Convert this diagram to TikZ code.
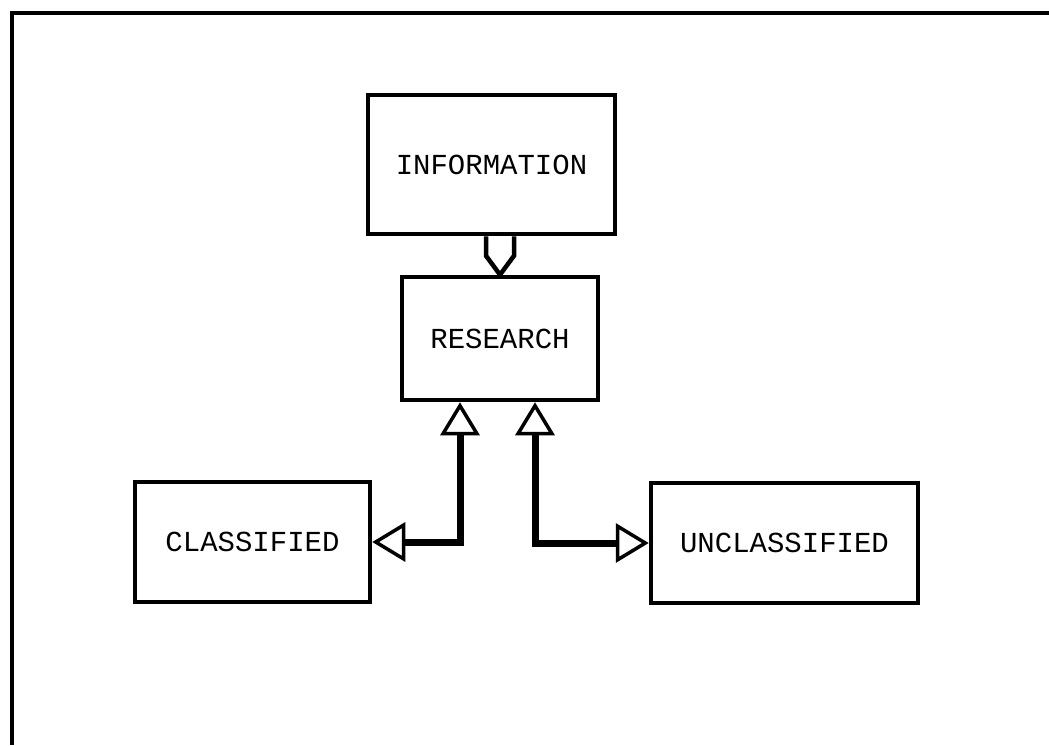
\documentclass[tikz,border=0pt]{standalone}
\usepackage{fontspec}
\newfontfamily\twfont{Liberation Mono}
\usetikzlibrary{arrows.meta,calc}
\tikzset{
  box/.style={draw=black, line width=4.5pt, fill=white, inner sep=0pt,
    font=\twfont\fontsize{29}{35}\selectfont, text=black},
  conn/.style={draw=black, line width=7pt, line join=miter},
  opentip/.tip={Triangle[open, length=33pt 0 0, width=39pt 0 0, line width=3.5pt]},
  link/.style={draw=black, line width=4.5pt, line join=miter},
}
\begin{document}
\begin{tikzpicture}[x=1pt, y=-1pt]
\useasboundingbox (0,0) rectangle (1049,745);
\fill[white] (0,0) rectangle (1049,745);
% frame
\draw[line width=4.5pt] (1049,13) -- (12,13) -- (12,745);
% boxes
\node[box, minimum width=247pt, minimum height=139pt] (information) at (491.5,164.5) {INFORMATION};
\node[box, minimum width=196pt, minimum height=123pt] (research) at (500,338.5) {RESEARCH};
\node[box, minimum width=235pt, minimum height=120pt] (classified) at (252.5,542) {CLASSIFIED};
\node[box, minimum width=267pt, minimum height=120pt] (unclassified) at (784.5,543) {UNCLASSIFIED};
% double-line arrow from INFORMATION to RESEARCH
\path (research.north) ++(-14,0) coordinate (dl);
\path (research.north) ++(14,0) coordinate (dr);
\draw[link] (information.south -| dl) -- ($(dl)+(0,-19)$) -- (research.north) -- ($(dr)+(0,-19)$) -- (information.south -| dr);
% connectors
\path (research.south) ++(-40,0) coordinate (rl);
\path (research.south) ++(35,0) coordinate (rr);
\draw[conn, opentip-opentip] (classified.east) -| (rl);
\draw[conn, opentip-opentip] (unclassified.west) -| (rr);
\end{tikzpicture}
\end{document}
